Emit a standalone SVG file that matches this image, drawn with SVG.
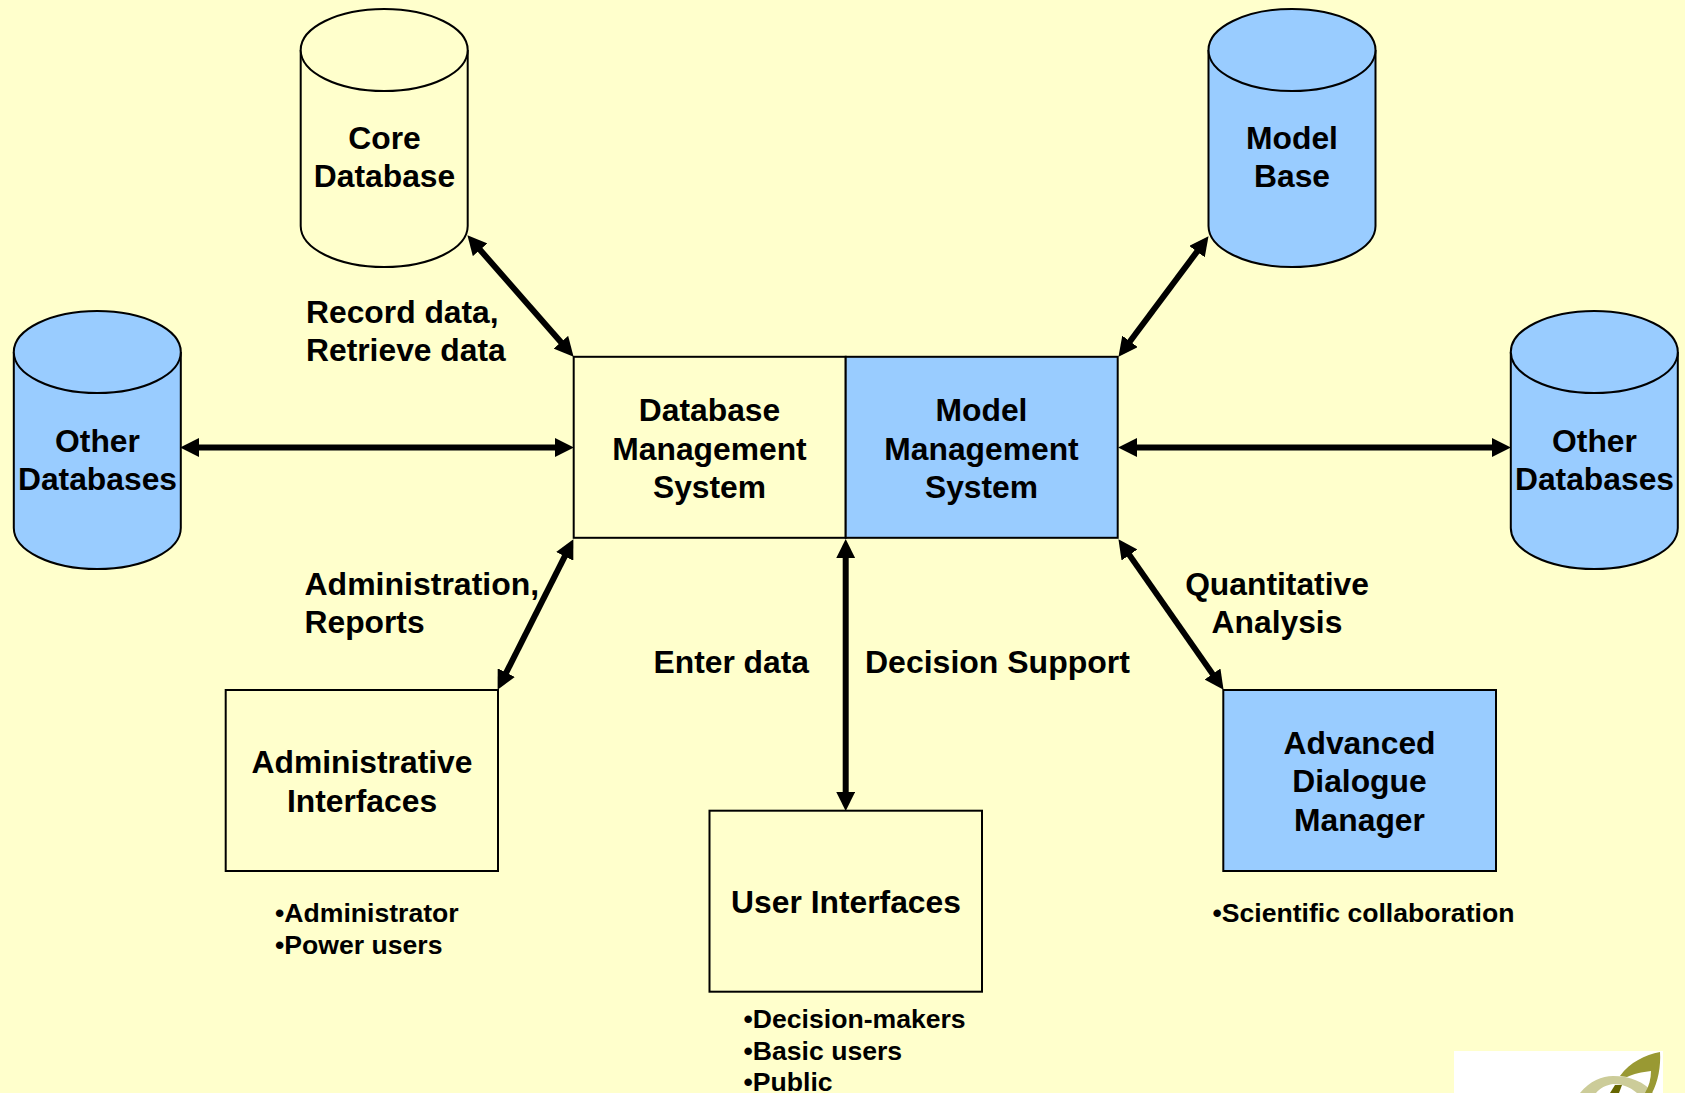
<svg xmlns="http://www.w3.org/2000/svg" width="1685" height="1093" viewBox="0 0 1685 1093">
<style>
.s{stroke:#000;stroke-width:2}
.y{fill:#ffffcc}
.b{fill:#99ccff}
text{font-family:"Liberation Sans",Arial,sans-serif;font-weight:700;fill:#000}
.t{font-size:31.800px;text-anchor:middle}
.l{font-size:31.800px}
.w{font-size:32px}
.n{font-size:26.600px}
.c{fill:none;stroke:#000;stroke-width:6}
</style>
<defs>
<marker id="a" viewBox="0 0 4 4" refX="1" refY="2" markerWidth="3.200" markerHeight="3.200" orient="auto-start-reverse"><path d="M0 0L4 2L0 4Z" fill="#000"/></marker>
<g id="cyl"><path d="M-83.500 -89V87A83.500 41 0 0 0 83.500 87V-89" class="s" fill="inherit"/><ellipse cx="0" cy="-89" rx="83.500" ry="41" class="s" fill="inherit"/></g>
</defs>
<rect width="1685" height="1093" class="y"/>
<g id="connectors">
<path class="c" marker-start="url(#a)" marker-end="url(#a)" d="M476.900 246.200L564.100 345.800"/>
<path class="c" marker-start="url(#a)" marker-end="url(#a)" d="M1199.900 247.800L1127.100 345.200"/>
<path class="c" marker-start="url(#a)" marker-end="url(#a)" d="M194.500 447.500H559.500"/>
<path class="c" marker-start="url(#a)" marker-end="url(#a)" d="M1132.500 447.500H1496.500"/>
<path class="c" marker-start="url(#a)" marker-end="url(#a)" d="M566.900 552.100L504.100 676.900"/>
<path class="c" marker-start="url(#a)" marker-end="url(#a)" d="M845.700 553.500V796.500"/>
<path class="c" marker-start="url(#a)" marker-end="url(#a)" d="M1126.700 551.100L1215.300 677.900"/>
</g>
<g id="core-database" class="y"><use href="#cyl" x="384.200" y="139"/><text class="t" x="384.500" y="149">Core</text><text class="t" x="384.500" y="187">Database</text></g>
<g id="model-base" class="b"><use href="#cyl" x="1292" y="139"/><text class="t" x="1292" y="149">Model</text><text class="t" x="1292" y="187">Base</text></g>
<g id="other-databases-left" class="b"><use href="#cyl" x="97.300" y="441"/><text class="t" x="97.500" y="452">Other</text><text class="t" x="97.500" y="490">Databases</text></g>
<g id="other-databases-right" class="b"><use href="#cyl" x="1594.300" y="441"/><text class="t" x="1594.500" y="452">Other</text><text class="t" x="1594.500" y="490">Databases</text></g>
<g id="dbms"><rect x="573.700" y="356.800" width="272" height="181" class="s y"/><text class="t" x="709.500" y="421">Database</text><text class="t" x="709.500" y="460">Management</text><text class="t" x="709.500" y="498">System</text></g>
<g id="mms"><rect x="845.700" y="356.800" width="272" height="181" class="s b"/><text class="t" x="981.500" y="421">Model</text><text class="t" x="981.500" y="460">Management</text><text class="t" x="981.500" y="498">System</text></g>
<g id="admin-interfaces"><rect x="225.700" y="690" width="272.300" height="181" class="s y"/><text class="t" x="362" y="773">Administrative</text><text class="t" x="362" y="812">Interfaces</text></g>
<g id="user-interfaces"><rect x="709.500" y="810.700" width="272.500" height="181" class="s y"/><text class="t" x="846" y="913">User Interfaces</text></g>
<g id="dialogue-manager"><rect x="1223.300" y="690" width="272.700" height="181" class="s b"/><text class="t" x="1359.500" y="754">Advanced</text><text class="t" x="1359.500" y="792">Dialogue</text><text class="t" x="1359.500" y="831">Manager</text></g>
<g id="labels">
<text class="l" x="306" y="323">Record data,</text><text class="l" x="306" y="361">Retrieve data</text>
<text class="w" x="304.500" y="595">Administration,</text><text class="l" x="304.500" y="633">Reports</text>
<text class="l" x="653.500" y="673">Enter data</text><text class="w" x="865" y="673">Decision Support</text>
<text class="t" x="1277" y="595">Quantitative</text><text class="t" x="1277" y="633">Analysis</text>
<text class="n" x="275" y="922">•Administrator</text><text class="n" x="275" y="954">•Power users</text>
<text class="n" x="1212.500" y="922">•Scientific collaboration</text>
<text class="n" x="743.500" y="1028">•Decision-makers</text><text class="n" x="743.500" y="1060">•Basic users</text><text class="n" x="743.500" y="1091">•Public</text>
</g>
<g id="logo"><rect x="1454" y="1051" width="209" height="42" fill="#fff"/>
<path d="M1580 1093C1590 1081 1602 1076 1613 1076C1630 1076 1645 1082 1653 1093H1637C1630 1087 1622 1084 1613 1084C1606 1085 1600 1088 1596 1093Z" fill="#cccc99"/>
<path d="M1610 1093L1615 1085H1622L1619 1093Z" fill="#666600"/>
<path d="M1620 1076C1630 1062 1645 1055 1660 1052C1661 1066 1658 1082 1652 1093H1645C1649 1086 1651 1079 1651 1071C1642 1072 1633 1074 1627 1077Z" fill="#999933"/>
</g>
</svg>
